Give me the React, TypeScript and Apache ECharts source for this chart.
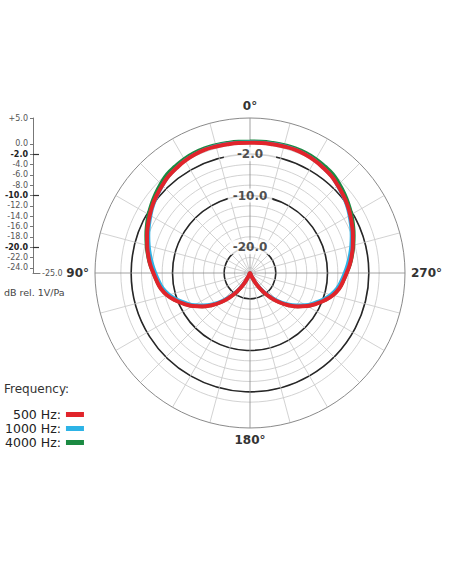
import { useEffect, useRef } from 'react';
import * as echarts from 'echarts';

// 指向性图数据（每 5°，单位 dB）
const angles = [
  0, 5, 10, 15, 20, 25, 30, 35, 40, 45, 50, 55, 60, 65, 70, 75, 80, 85, 90,
  95, 100, 105, 110, 115, 120, 125, 130, 135, 140, 145, 150, 155, 160, 165, 170, 175, 180,
  185, 190, 195, 200, 205, 210, 215, 220, 225, 230, 235, 240, 245, 250, 255, 260, 265, 270,
  275, 280, 285, 290, 295, 300, 305, 310, 315, 320, 325, 330, 335, 340, 345, 350, 355, 360,
];
const db500 = [
  0.2, 0.25, 0.3, 0.35, 0.4, 0.3, 0.1, -0.2, -0.5, -1.0, -1.5, -2.0, -2.6, -3.2, -3.8, -4.4, -5.0, -5.6, -6.3,
  -6.9, -7.5, -8.4, -9.6, -10.9, -12.2, -13.7, -15.3, -17.0, -18.8, -20.6, -22.4, -24.3, -25, -25, -25, -25, -25,
  -25, -25, -25, -25, -24.3, -22.4, -20.6, -18.8, -17.0, -15.3, -13.7, -12.2, -10.9, -9.6, -8.4, -7.5, -6.9, -6.3,
  -5.6, -5.0, -4.4, -3.8, -3.2, -2.6, -2.0, -1.5, -1.0, -0.5, -0.2, 0.1, 0.3, 0.4, 0.35, 0.3, 0.25, 0.2,
];
const db1000 = [
  0.3, 0.35, 0.4, 0.45, 0.45, 0.35, 0.15, -0.2, -0.5, -1.05, -1.6, -2.15, -2.8, -3.45, -4.1, -4.75, -5.4, -6.05, -6.7,
  -7.3, -7.9, -8.8, -10.0, -11.3, -12.6, -14.1, -15.7, -17.4, -19.2, -21.0, -22.8, -24.6, -25, -25, -25, -25, -25,
  -25, -25, -25, -25, -24.6, -22.8, -21.0, -19.2, -17.4, -15.7, -14.1, -12.6, -11.3, -10.0, -8.8, -7.9, -7.3, -6.7,
  -6.05, -5.4, -4.75, -4.1, -3.45, -2.8, -2.15, -1.6, -1.05, -0.5, -0.2, 0.15, 0.35, 0.45, 0.45, 0.4, 0.35, 0.3,
];
const db4000 = [
  0.5, 0.55, 0.6, 0.65, 0.7, 0.65, 0.5, 0.25, 0.0, -0.55, -1.1, -1.7, -2.3, -2.95, -3.6, -4.25, -4.9, -5.55, -6.3,
  -6.9, -7.5, -8.4, -9.6, -10.9, -12.2, -13.7, -15.3, -17.0, -18.8, -20.6, -22.4, -24.3, -25, -25, -25, -25, -25,
  -25, -25, -25, -25, -24.3, -22.4, -20.6, -18.8, -17.0, -15.3, -13.7, -12.2, -10.9, -9.6, -8.4, -7.5, -6.9, -6.3,
  -5.55, -4.9, -4.25, -3.6, -2.95, -2.3, -1.7, -1.1, -0.55, 0.0, 0.25, 0.5, 0.65, 0.7, 0.65, 0.6, 0.55, 0.5,
];

const freqNames = ['500 Hz:', '1000 Hz:', '4000 Hz:'];
const freqColors = ['#e1242b', '#2db3e6', '#1b8a42'];

const ringTicks = [-24, -22, -20, -18, -16, -14, -12, -10, -8, -6, -4, -2, 0];
const boldRings = [-20, -10, -2];
const scaleTicks = [5, 0, -2, -4, -6, -8, -10, -12, -14, -16, -18, -20, -22, -24];
const angleLabels = [0, 90, 180, 270];

const R_MIN = -25;
const R_MAX = 5;
const FONT = '"DejaVu Sans", sans-serif';

export default function App() {
  const chartRef = useRef<HTMLDivElement>(null);

  useEffect(() => {
    if (!chartRef.current) return;
    const chart = echarts.init(chartRef.current, undefined, { renderer: 'svg' });

    // 环线颜色：按刻度逐个取色
    const grayRing: string[] = [];
    const blackRing: string[] = [];
    for (let v = R_MIN; v <= R_MAX; v++) {
      grayRing.push(ringTicks.includes(v) ? '#c6c6c6' : 'rgba(0,0,0,0)');
      blackRing.push(boldRings.includes(v) ? '#262626' : 'rgba(0,0,0,0)');
    }
    const spokeColors: string[] = [];
    for (let i = 0; i < 24; i++) spokeColors.push(i % 6 === 0 ? '#8c8c8c' : '#c6c6c6');

    const allDb = [db500, db1000, db4000];
    const lineWidths = [4, 3.5, 3.5];
    // 先画 4000 Hz，最后画 500 Hz
    const order = [2, 1, 0];
    const curves = order.map((k) => ({
      name: freqNames[k],
      type: 'line',
      coordinateSystem: 'polar',
      polarIndex: 0,
      showSymbol: false,
      smooth: true,
      z: 3 + (2 - k),
      itemStyle: { color: freqColors[k] },
      lineStyle: { color: freqColors[k], width: lineWidths[k] },
      data: angles.map((a, i) => [allDb[k][i], a]),
    }));

    const ringPadding: any = { '-2': [1, 13], '-10': [1, 5], '-20': [1, 3] };

    const option = {
      animation: false,
      textStyle: { fontFamily: FONT },
      polar: [
        { center: [250, 273], radius: 155 },
        { center: [250, 273], radius: 155 },
      ],
      angleAxis: [{
        polarIndex: 0,
        type: 'value',
        min: 0,
        max: 360,
        interval: 15,
        startAngle: 90,
        clockwise: false,
        axisLine: { show: true, lineStyle: { color: '#8a8a8a', width: 1 } },
        axisTick: { show: false },
        axisLabel: {
          margin: 6,
          fontSize: 12,
          fontWeight: 'bold',
          color: '#333',
          formatter: (v: number) => (angleLabels.includes(v) ? v + '°' : ''),
        },
        splitLine: { show: true, lineStyle: { color: spokeColors, width: 0.8 } },
      }, {
        polarIndex: 1,
        type: 'value',
        min: 0,
        max: 360,
        startAngle: 90,
        clockwise: false,
        show: false,
      }],
      radiusAxis: [{
        polarIndex: 0,
        type: 'value',
        min: R_MIN,
        max: R_MAX,
        interval: 1,
        axisLine: { show: false },
        axisTick: { show: false },
        axisLabel: { show: false },
        splitLine: { show: true, lineStyle: { color: grayRing, width: 0.8 } },
      }, {
        polarIndex: 1,
        type: 'value',
        min: R_MIN,
        max: R_MAX,
        interval: 1,
        axisLine: { show: false },
        axisTick: { show: false },
        axisLabel: { show: false },
        splitLine: { show: true, lineStyle: { color: blackRing, width: 1.6 } },
      }],
      // 左侧刻度尺
      grid: { left: 33, top: 118, width: 7, height: 155 },
      xAxis: {
        type: 'value',
        min: 0,
        max: 1,
        axisLine: { show: true, onZero: false, lineStyle: { color: '#777', width: 1 } },
        axisTick: { show: false },
        axisLabel: { show: false },
        splitLine: { show: false },
        name: (R_MIN).toFixed(1),
        nameLocation: 'end',
        nameGap: 2,
        nameTextStyle: { fontSize: 8, color: '#555', verticalAlign: 'middle', align: 'left' },
      },
      yAxis: [{
        type: 'value',
        min: R_MIN,
        max: R_MAX,
        position: 'left',
        offset: 0,
        axisLine: { show: true, onZero: false, lineStyle: { color: '#777', width: 1 } },
        axisTick: { show: true, customValues: scaleTicks, length: 3, lineStyle: { color: '#777' } },
        axisLabel: {
          customValues: scaleTicks,
          margin: 5,
          fontSize: 8,
          color: '#555',
          formatter: (v: number) => {
            const s = (v > 0 ? '+' : '') + v.toFixed(1);
            return boldRings.includes(v) ? `{b|${s}}` : s;
          },
          rich: { b: { fontSize: 8, fontWeight: 'bold', color: '#222' } },
        },
        splitLine: { show: false },
      }, {
        type: 'value',
        min: R_MIN,
        max: R_MAX,
        position: 'left',
        offset: 0,
        axisLine: { show: false },
        axisTick: { show: true, inside: true, customValues: boldRings, length: 6, lineStyle: { color: '#333', width: 1.2 } },
        axisLabel: { show: false },
        splitLine: { show: false },
      }],
      legend: {
        orient: 'vertical',
        left: 0,
        top: 403,
        align: 'right',
        itemWidth: 18,
        itemHeight: 5,
        itemGap: 1,
        icon: 'rect',
        selectedMode: false,
        data: freqNames,
        textStyle: { fontSize: 12.5, color: '#222', width: 57, align: 'right', fontFamily: FONT },
      },
      graphic: [
        { type: 'text', left: 4, top: 287, style: { text: 'dB rel. 1V/Pa', fontSize: 9.5, fill: '#444', fontFamily: FONT } },
        { type: 'text', left: 4, top: 383, style: { text: 'Frequency:', fontSize: 12, fill: '#333', fontFamily: FONT } },
      ],
      series: [
        ...curves,
        {
          type: 'scatter',
          coordinateSystem: 'polar',
          polarIndex: 0,
          symbolSize: 0,
          z: 2,
          silent: true,
          label: {
            show: true,
            position: 'inside',
            fontSize: 12,
            fontWeight: 'bold',
            color: '#222',
            backgroundColor: '#fff',
            formatter: (p: any) => p.value[0].toFixed(1),
          },
          data: boldRings.map((v) => ({ value: [v, 0], label: { padding: ringPadding[v] } })),
        },
      ],
    };

    chart.setOption(option as any);
    return () => chart.dispose();
  }, []);

  return (
    <div
      ref={chartRef}
      style={{ position: 'absolute', left: 0, top: 0, width: 452, height: 584, background: '#fff' }}
    />
  );
}
